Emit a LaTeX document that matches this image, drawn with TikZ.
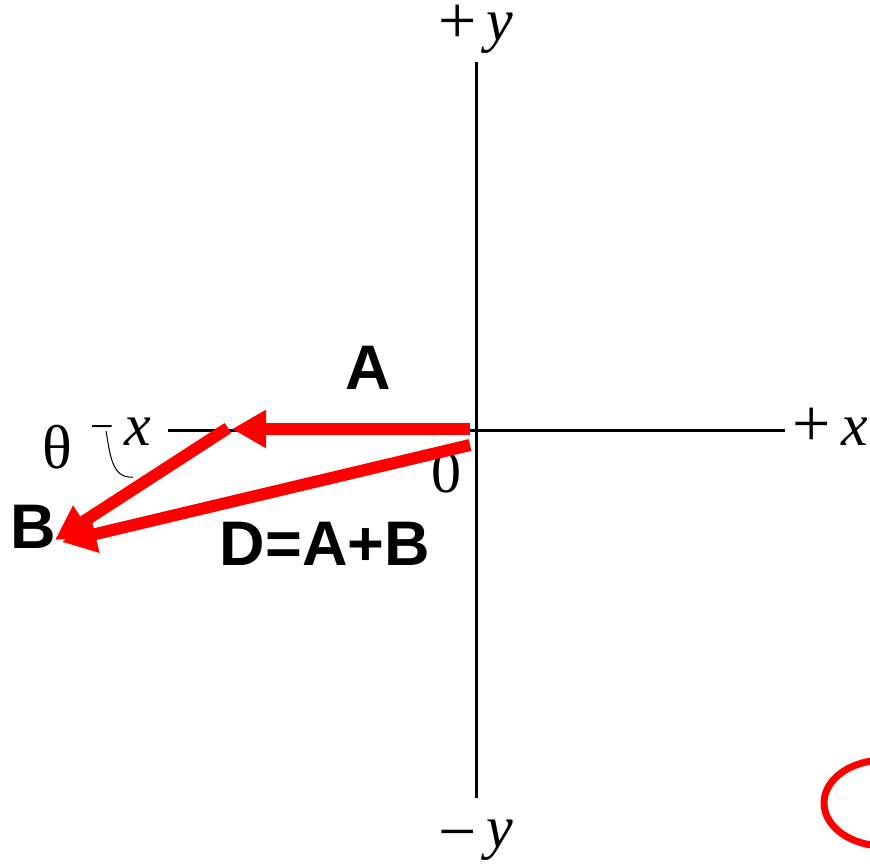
\documentclass[tikz,border=0pt]{standalone}
\usepackage{fontspec}
\setmainfont{Liberation Serif}
\newfontfamily\vecfont{Liberation Sans}
\usepackage{tikz}
\usepackage{xcolor}
\usetikzlibrary{arrows.meta}
\definecolor{cVec}{RGB}{255,0,0}
\newcommand{\axsign}[2]{\raisebox{#1}{\fontsize{68}{60}\selectfont #2}}
\tikzset{
	axis/.style  ={line width=3pt, black},
	vec/.style   ={line width=12pt, cVec, -{Triangle[length=34pt, width=36pt]}},
	axlbl/.style ={font=\fontsize{60}{60}\selectfont, inner sep=0pt, text height=30pt},
	veclbl/.style={font=\vecfont\bfseries\fontsize{63}{63}\selectfont, inner sep=0pt},
}

\begin{document}
\begin{tikzpicture}[x=1pt, y=-1pt]
	\useasboundingbox (0,0) rectangle (870,865);
	\clip (0,0) rectangle (870,865);
	% axes
	\coordinate (xl) at (168,430);
	\coordinate (xr) at (785,430);
	\coordinate (yt) at (476,62);
	\coordinate (yb) at (476,798);
	\draw[axis] (xl) -- (xr);
	\draw[axis] (yt) -- (yb);
	\node[axlbl, anchor=base east] (px) at (868,445) {\axsign{-1pt}{+}\,\textit{x}};
	\node[axlbl, anchor=base east] (nx) at (151,445) {{\fontsize{42}{42}\selectfont\raisebox{5pt}{−}}\,\textit{x}};
	\node[axlbl, anchor=base] (py) at (476,40) {\axsign{-3pt}{+}\,\textit{y}};
	\node[axlbl, anchor=base] (ny) at (476,847) {\axsign{-7pt}{−}\,\textit{y}};
	\node[axlbl, anchor=base] (orig) at (446,492) {0};
	\node[axlbl, anchor=base, font=\fontsize{62}{62}\selectfont] (th) at (57,468) {θ};
	\draw[line width=1pt] (106,431) .. controls (110,452) and (111,479) .. (133,477);
	% vectors
	\coordinate (A0) at (470,429);
	\coordinate (A1) at (232,429);
	\coordinate (B0) at (228,428);
	\coordinate (B1) at (55,540);
	\coordinate (D0) at (470,445);
	\coordinate (D1) at (62,542);
	\draw[vec] (A0) -- (A1);
	\draw[vec] (D0) -- (D1);
	\draw[vec] (B0) -- (B1);
	\node[veclbl, anchor=base] (lblA) at (368,389) {A};
	\node[veclbl, anchor=base] (lblB) at (33,548) {B};
	\node[veclbl, anchor=base] (lblD) at (325,565) {D=A+B};
	\draw[cVec, line width=7pt] (884,803) ellipse [x radius=60pt, y radius=43pt];
\end{tikzpicture}
\end{document}
